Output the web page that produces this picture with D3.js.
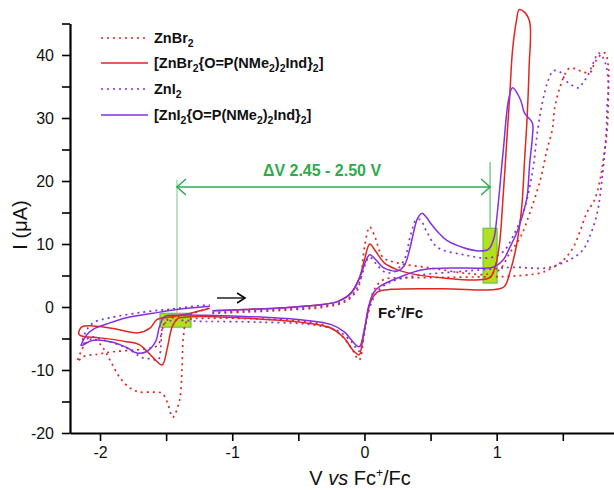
<!DOCTYPE html>
<html>
<head>
<meta charset="utf-8">
<script src="https://cdn.jsdelivr.net/npm/d3@7"></script>
<style>
  body { margin: 0; background: #fff; }
  svg { font-family: "Liberation Sans", Arial, sans-serif; }
</style>
</head>
<body>
<div id="cv"></div>
<script>
// traces as [V vs Fc+/Fc, I in uA] in scan order
var znbr2 = [[-1.15,-1.0],[-0.9,-0.8],[-0.6,-0.5],[-0.3,0],[-0.15,0.8],[-0.06,2.5],[-0.03,4.3],[0.0,9.5],[0.04,12.7],
  [0.08,11.1],[0.14,7.9],[0.25,7.0],[0.5,6.2],[0.75,5.4],[0.93,5.2],[1.02,5.9],[1.1,8.6],[1.18,11.1],[1.25,14.9],
  [1.33,20.2],[1.38,24.9],[1.42,28.1],[1.44,31.7],[1.48,35],[1.52,37.1],[1.55,37.9],[1.6,37.8],[1.65,37.3],[1.71,37.3],
  [1.74,38.7],[1.79,40.1],[1.82,40.3],[1.845,38],[1.845,35],[1.835,28],[1.81,24],[1.78,20],[1.74,17],[1.68,14.9],
  [1.63,12],[1.58,9.5],[1.53,8],[1.48,7.0],[1.4,6.0],[1.33,5.4],[1.12,4.9],[0.93,4.8],[0.6,4.7],[0.3,4.6],[0.15,4.4],
  [0.08,3],[0.04,0.5],[0.0,-4],[-0.04,-8.4],[-0.1,-6.5],[-0.18,-4.4],[-0.3,-2.9],[-0.5,-2.2],[-0.8,-1.9],[-1.2,-1.8],
  [-1.34,-2.2],[-1.37,-5],[-1.38,-10],[-1.4,-15],[-1.45,-17.5],[-1.49,-15.2],[-1.53,-13.7],[-1.6,-13.5],[-1.7,-13.5],
  [-1.77,-12.9],[-1.85,-11.2],[-1.92,-8.6],[-1.98,-6.4],[-2.05,-5.0],[-2.11,-5.8],[-2.17,-8.7],[-2.13,-7.9],[-2.02,-7.5],
  [-1.9,-7.1],[-1.72,-6.8],[-1.62,-6.5],[-1.56,-6],[-1.53,-3.5],[-1.5,-2.2],[-1.45,-1.7],[-1.3,-1.0],[-1.18,-0.2]];

var znbr2L = [[-1.15,-0.6],[-0.9,-0.4],[-0.6,-0.1],[-0.35,0.3],[-0.2,0.9],[-0.1,2.2],[-0.04,4.5],[0.0,7.5],[0.04,10.0],
  [0.08,9.0],[0.15,7.0],[0.25,5.9],[0.4,5.1],[0.6,4.6],[0.85,4.3],[0.95,4.7],[0.99,6.5],[1.02,9.8],[1.05,18],[1.08,27.6],
  [1.1,34],[1.12,40.8],[1.15,45.5],[1.17,47.2],[1.21,46.8],[1.25,45.2],[1.245,38],[1.23,30],[1.21,23],[1.19,16],
  [1.15,9.8],[1.1,5.5],[1.06,3.3],[1.0,2.8],[0.6,2.9],[0.2,2.8],[0.1,2.4],[0.05,1.0],[0.01,-2.5],[-0.02,-6],[-0.04,-7.6],
  [-0.09,-6.8],[-0.15,-5.0],[-0.26,-3.3],[-0.49,-2.4],[-0.87,-1.8],[-1.24,-1.5],[-1.34,-1.6],[-1.41,-1.8],[-1.455,-3.2],
  [-1.49,-6.4],[-1.53,-9.2],[-1.6,-8.0],[-1.7,-6.0],[-1.8,-5.5],[-2.0,-4.9],[-2.14,-4.6],[-2.16,-4.3],[-2.14,-3.2],
  [-2.05,-3.0],[-1.9,-3.4],[-1.71,-4.1],[-1.62,-3.3],[-1.57,-2.0],[-1.47,-1.6],[-1.3,-0.9],[-1.17,-0.2]];

var zni2 = [[-1.15,-0.9],[-0.9,-0.6],[-0.6,-0.3],[-0.3,0.2],[-0.15,1.0],[-0.07,2.5],[-0.02,5],[0.02,7.5],[0.04,7.9],
  [0.09,6.8],[0.15,5.6],[0.22,5.5],[0.3,7.5],[0.35,11.5],[0.39,13.8],[0.42,13.9],[0.47,12],[0.55,9.5],[0.75,8.3],
  [0.95,7.8],[1.05,8.8],[1.12,11.1],[1.2,14.9],[1.27,21.3],[1.31,28.1],[1.35,32.9],[1.39,36],[1.43,37.5],[1.48,37.3],
  [1.52,36],[1.57,35.2],[1.62,34.8],[1.65,35.5],[1.69,36.8],[1.73,38.7],[1.77,40.3],[1.8,39.7],[1.83,38.1],[1.845,35],
  [1.835,31.7],[1.83,28.1],[1.8,21],[1.76,14.9],[1.7,11],[1.65,9],[1.58,7.8],[1.5,7],[1.38,6.2],[1.12,6.3],[0.95,6.0],
  [0.7,5.6],[0.4,5.0],[0.2,4.0],[0.1,2.5],[0.05,0.5],[0.0,-3.5],[-0.04,-7.0],[-0.1,-5.5],[-0.2,-3.8],[-0.4,-2.8],
  [-0.8,-2.4],[-1.2,-2.3],[-1.5,-2.4],[-1.53,-3.7],[-1.54,-6.3],[-1.56,-8.4],[-1.62,-8.2],[-1.675,-8.1],[-1.8,-6.5],
  [-1.98,-5.2],[-2.08,-4.8],[-2.14,-6.3],[-2.11,-4.0],[-2.05,-2.5],[-1.92,-1.7],[-1.67,-0.8],[-1.45,-0.3],[-1.25,0.2],
  [-1.17,0.3]];

var zni2L = [[-1.15,-0.6],[-0.9,-0.4],[-0.6,-0.1],[-0.35,0.3],[-0.2,0.9],[-0.1,2.3],[-0.03,5.0],[0.01,7.3],[0.04,8.3],
  [0.09,7.4],[0.14,6.3],[0.2,5.8],[0.25,5.7],[0.3,6.5],[0.34,9],[0.37,11.7],[0.4,14],[0.435,14.9],[0.47,14.2],[0.5,13.3],
  [0.56,11.8],[0.62,10.6],[0.75,9.4],[0.87,8.9],[0.94,9.2],[0.98,11],[1.0,14],[1.05,24.9],[1.09,32.9],[1.12,34.8],
  [1.18,32.9],[1.21,30.8],[1.27,29.2],[1.27,27],[1.25,22.9],[1.23,17.5],[1.2,14.9],[1.15,11.7],[1.1,9.5],[1.05,7.5],
  [0.97,6.3],[0.75,6.2],[0.44,5.9],[0.25,4.6],[0.12,3.3],[0.07,2.3],[0.03,0],[0.0,-3.5],[-0.04,-6.3],[-0.1,-5.2],
  [-0.15,-4.0],[-0.25,-2.8],[-0.5,-2.0],[-0.9,-1.5],[-1.2,-1.3],[-1.42,-1.3],[-1.51,-1.5],[-1.55,-3.1],[-1.58,-5.5],
  [-1.65,-7.1],[-1.72,-7.3],[-1.8,-6.4],[-1.92,-5.5],[-2.06,-5.3],[-2.14,-6.1],[-2.1,-4.4],[-2.04,-3.4],[-1.95,-2.7],
  [-1.8,-1.7],[-1.6,-1.0],[-1.42,-0.4],[-1.17,0.1]];

var seriesNames = ["ZnBr_2", "[ZnBr_2{O=P(NMe_2)_2Ind}_2]", "ZnI_2", "[ZnI_2{O=P(NMe_2)_2Ind}_2]"];
var seriesData = [znbr2, znbr2L, zni2, zni2L];
var seriesColors = ["#e0261f", "#e0261f", "#8530e0", "#8530e0"];
var seriesDotted = [true, false, true, false];

var xTicks = [-2, -1, 0, 1], xMinor = [-1.5, -0.5, 0.5, 1.5];
var yTicks = [-20, -10, 0, 10, 20, 30, 40], yMinor = [-15, -5, 5, 15, 25, 35, 45];

// annotation anchors (V, I)
var gapStart = -1.418, gapEnd = 0.95, gapLevel = 19.05;
var boxLeft = [[-1.546, -1.0], [-1.312, -3.2]];
var boxRight = [[0.897, 12.5], [1.003, 3.8]];
var scanArrow = [[-1.115, 1.43], [-0.903, 1.43]];

var width = 614, height = 490;
var x = d3.scaleLinear().domain([-2.2269, 1.8872]).range([70, 614]);
var y = d3.scaleLinear().domain([-20, 45]).range([433, 23.5]);

var svg = d3.select("#cv")
            .append("svg")
            .attr("width", width)
            .attr("height", height);

// axes
var fmt = function(d) { return String(d); };
var gx = svg.append("g").attr("transform", "translate(0,433)");
gx.call(d3.axisBottom(x).tickValues(xTicks).tickSize(8).tickSizeOuter(0).tickPadding(6).tickFormat(fmt));
gx.append("g").call(d3.axisBottom(x).tickValues(xMinor).tickSize(8).tickSizeOuter(0).tickFormat(""))
  .select(".domain").remove();

var gy = svg.append("g").attr("transform", "translate(70,0)");
gy.call(d3.axisLeft(y).tickValues(yTicks).tickSize(8).tickSizeOuter(0).tickPadding(8).tickFormat(fmt));
gy.append("g").call(d3.axisLeft(y).tickValues(yMinor).tickSize(8).tickSizeOuter(0).tickFormat(""))
  .select(".domain").remove();

svg.selectAll(".domain").attr("stroke-width", 2.2).attr("stroke", "#000");
svg.selectAll(".tick line").attr("stroke-width", 1.6).attr("stroke", "#000");
svg.selectAll(".tick text").attr("font-size", 16).attr("fill", "#111")
   .attr("font-family", "'Liberation Sans', Arial, sans-serif");
// minor ticks carry empty labels, drop them
svg.selectAll(".tick text").filter(function() { return this.textContent === ""; }).remove();

// green highlight boxes sit under the curves
[boxLeft, boxRight].forEach(function(b) {
  svg.append("rect")
     .attr("x", x(b[0][0])).attr("y", y(b[0][1]))
     .attr("width", x(b[1][0]) - x(b[0][0]))
     .attr("height", y(b[1][1]) - y(b[0][1]))
     .attr("fill", "#b3e01c").attr("stroke", "#6cc04a").attr("stroke-width", 1.2);
});

// vertical guides of the gap
svg.append("line")
   .attr("x1", x(gapStart)).attr("x2", x(gapStart))
   .attr("y1", y(20.2)).attr("y2", y(boxLeft[0][1]))
   .attr("stroke", "#a3d9b3").attr("stroke-width", 1.5);
svg.append("line")
   .attr("x1", x(gapEnd)).attr("x2", x(gapEnd))
   .attr("y1", y(23)).attr("y2", y(boxRight[0][1]))
   .attr("stroke", "#6cc47c").attr("stroke-width", 1.3);

var line = d3.line()
             .x(function(d) { return x(d[0]); })
             .y(function(d) { return y(d[1]); })
             .curve(d3.curveCatmullRom.alpha(0.5));

var order = [0, 2, 1, 3];
order.forEach(function(i) {
  svg.append("path")
     .datum(seriesData[i])
     .attr("d", line)
     .attr("fill", "none")
     .attr("stroke", seriesColors[i])
     .attr("stroke-width", seriesDotted[i] ? 1.7 : 1.5)
     .attr("stroke-dasharray", seriesDotted[i] ? "2,4" : null)
     .attr("stroke-linejoin", "round");
});

// text with _n subscripts
function richText(sel, str, size) {
  var shift = 0;
  str.split(/(_\d)/).forEach(function(part) {
    if (part === "") return;
    if (part[0] === "_") {
      sel.append("tspan").attr("font-size", size * 0.72).attr("dy", size * 0.25 - shift).text(part.slice(1));
      shift = size * 0.25;
    } else {
      sel.append("tspan").attr("dy", -shift).text(part);
      shift = 0;
    }
  });
}

// legend
var legY = [38, 63, 89, 115];
seriesNames.forEach(function(name, i) {
  svg.append("line")
     .attr("x1", 101).attr("x2", 148).attr("y1", legY[i]).attr("y2", legY[i])
     .attr("stroke", seriesColors[i]).attr("stroke-width", 1.5)
     .attr("stroke-dasharray", seriesDotted[i] ? "2,4" : null);
  var t = svg.append("text")
             .attr("x", 154).attr("y", legY[i] + 5)
             .attr("font-size", 14.5).attr("font-weight", "bold").attr("fill", "#111");
  richText(t, name, 14.5);
});

// double arrow for the potential gap
var green = "#2faa4f";
svg.append("line")
   .attr("x1", x(gapStart)).attr("x2", x(gapEnd))
   .attr("y1", y(gapLevel)).attr("y2", y(gapLevel))
   .attr("stroke", green).attr("stroke-width", 1.5);
function chevron(px, py, dir, col, len, half) {
  svg.append("path")
     .attr("d", "M" + (px + dir * len) + "," + (py - half) + "L" + px + "," + py + "L" + (px + dir * len) + "," + (py + half))
     .attr("fill", "none").attr("stroke", col).attr("stroke-width", 1.5);
}
chevron(x(gapStart), y(gapLevel), 1, green, 9, 8);
chevron(x(gapEnd), y(gapLevel), -1, green, 9, 8);
svg.append("text")
   .attr("x", 322).attr("y", 176)
   .attr("text-anchor", "middle")
   .attr("font-size", 16).attr("font-weight", "bold").attr("fill", green)
   .text("\u0394V 2.45 - 2.50 V");

// scan direction arrow
svg.append("line")
   .attr("x1", x(scanArrow[0][0])).attr("x2", x(scanArrow[1][0]))
   .attr("y1", y(scanArrow[0][1])).attr("y2", y(scanArrow[1][1]))
   .attr("stroke", "#000").attr("stroke-width", 1.3);
chevron(x(scanArrow[1][0]), y(scanArrow[1][1]), -1, "#000", 8, 5);

// Fc+/Fc label
var fc = svg.append("text").attr("x", 378).attr("y", 318)
            .attr("font-size", 15).attr("font-weight", "bold").attr("fill", "#111");
fc.append("tspan").text("Fc");
fc.append("tspan").attr("font-size", 10).attr("dy", -6).text("+");
fc.append("tspan").attr("dy", 6).text("/Fc");

// axis titles
var xt = svg.append("text").attr("x", 360).attr("y", 485)
            .attr("text-anchor", "middle").attr("font-size", 20).attr("fill", "#111");
xt.append("tspan").text("V ");
xt.append("tspan").attr("font-style", "italic").text("vs");
xt.append("tspan").text(" Fc");
xt.append("tspan").attr("font-size", 12).attr("dy", -8).text("+");
xt.append("tspan").attr("dy", 8).text("/Fc");

svg.append("text")
   .attr("transform", "translate(27,225) rotate(-90)")
   .attr("text-anchor", "middle").attr("font-size", 20).attr("fill", "#111")
   .text("I (\u03bcA)");
</script>
</body>
</html>
